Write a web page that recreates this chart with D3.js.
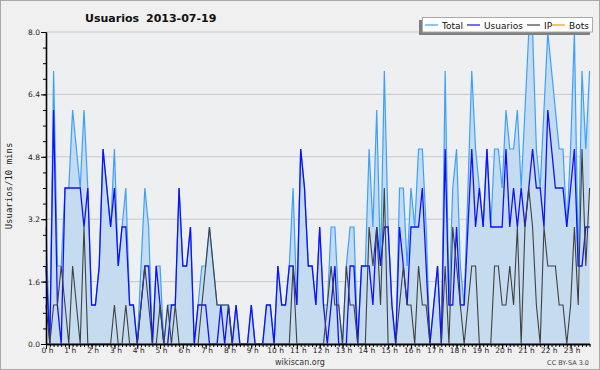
<!DOCTYPE html>
<html>
<head>
<meta charset="utf-8">
<script src="https://cdn.jsdelivr.net/npm/d3@7"></script>
<style>
  body { margin: 0; background: #f0f0f0; }
  text { font-family: "DejaVu Sans", sans-serif; }
</style>
</head>
<body>
<svg id="chart"></svg>
<script>
// users per 10 minutes, 144 slots (00:00 .. 23:50)
const total = [
  3,0,7,2,2,4,4,6,5,4, 6,4,1,1,2,5,4,3,5,2, 3,4,1,1,0,2,4,3,0,2,
  2,0,1,1,1,4,2,2,3,0, 1,2,2,3,2,1,1,1,1,0, 1,0,0,0,1,0,0,0,1,1,
  0,2,1,1,2,4,1,5,4,2, 2,1,3,1,1,3,3,1,0,2, 3,3,0,2,2,5,3,6,2,7,
  3,1,0,4,4,2,4,3,5,5, 3,0,1,2,0,7,1,4,5,2, 1,4,7,5,4,3,5,3,5,5,
  4,6,5,5,6,4,6,8,8,5, 4,6,8,7,6,5,5,3,5,8, 2,7,5,7
]
const usuarios = [
  2,0,6,1,0,4,4,4,4,4, 3,4,1,1,2,5,4,3,4,2, 3,3,1,1,0,1,2,2,0,2,
  1,0,0,1,1,4,2,2,3,0, 1,1,1,0,0,0,1,0,1,0, 1,0,0,0,1,0,0,0,1,1,
  0,2,1,1,2,2,1,5,4,2, 2,1,3,1,0,1,2,0,0,0, 2,2,0,2,2,2,1,3,2,3,
  3,1,0,3,2,1,3,3,3,4, 2,0,1,2,0,5,1,1,3,1, 1,3,5,3,4,3,5,3,3,3,
  3,5,3,4,3,4,3,4,5,4, 4,3,6,5,4,4,4,3,4,5, 2,2,3,3
]
const ip = [
  1,0,1,1,2,1,0,2,1,0, 3,0,0,0,0,0,0,0,1,0, 0,1,0,0,0,1,2,1,0,0,
  1,0,1,0,1,0,0,0,0,0, 0,1,2,3,2,1,1,1,1,0, 0,0,0,0,0,0,0,0,0,0,
  0,0,0,0,0,2,0,0,0,0, 0,0,0,0,1,2,1,1,0,2, 1,1,0,0,0,3,2,3,1,4,
  0,0,0,1,2,1,1,0,2,1, 1,0,0,0,0,2,0,3,2,1, 0,1,2,2,0,0,0,0,2,2,
  1,1,2,1,3,0,3,4,3,1, 0,3,2,2,2,1,1,0,1,3, 1,5,2,4
]
const bots = [
  0,0,0,0,0,0,0,0,0,0, 0,0,0,0,0,0,0,0,0,0, 0,0,0,0,0,0,0,0,0,0,
  0,0,0,0,0,0,0,0,0,0, 0,0,0,0,0,0,0,0,0,0, 0,0,0,0,0,0,0,0,0,0,
  0,0,0,0,0,0,0,0,0,0, 0,0,0,0,0,0,0,0,0,0, 0,0,0,0,0,0,0,0,0,0,
  0,0,0,0,0,0,0,0,0,0, 0,0,0,0,0,0,0,0,0,0, 0,0,0,0,0,0,0,0,0,0,
  0,0,0,0,0,0,0,0,0,0, 0,0,0,0,0,0,0,0,0,0, 0,0,0,0
]
const hourLabels = ["0 h","1 h","2 h","3 h","4 h","5 h","6 h","7 h","8 h","9 h","10 h","11 h",
  "12 h","13 h","14 h","15 h","16 h","17 h","18 h","19 h","20 h","21 h","22 h","23 h"]
const yTicks = [0, 1.6, 3.2, 4.8, 6.4, 8.0]
const seriesNames = ["Total", "Usuarios", "IP", "Bots"]
const seriesColors = ["#3ca0ff", "#1010ff", "#404040", "#ff9900"]

const width = 600, height = 370
const svg = d3.select("#chart")
    .attr("width", width)
    .attr("height", height)

const x = d3.scaleLinear().domain([0, total.length - 1]).range([46, 589.6])
const y = d3.scaleLinear().domain([0, 8]).range([344, 32])

svg.append("rect")
    .attr("x", 0.5).attr("y", 0.5)
    .attr("width", width - 1).attr("height", height - 1)
    .attr("fill", "#f0f0f0").attr("stroke", "#a8a8a8")

svg.append("rect")
    .attr("x", x.range()[0]).attr("y", y.range()[1])
    .attr("width", x.range()[1] - x.range()[0])
    .attr("height", y.range()[0] - y.range()[1])
    .attr("fill", "#edeff1")

// grid
svg.append("g")
  .selectAll("line")
  .data(yTicks.slice(1))
  .join("line")
    .attr("x1", x.range()[0]).attr("x2", x.range()[1])
    .attr("y1", d => y(d)).attr("y2", d => y(d))
    .attr("stroke", "#c8c8c8")

// area under total
svg.append("path")
    .datum(total)
    .attr("fill", "#c5dcf0")
    .attr("d", d3.area().x((d, i) => x(i)).y0(y(0)).y1(d => y(d)))

const line = d3.line().x((d, i) => x(i)).y(d => y(d))
const series = [total, usuarios, ip, bots]
const widths = [1.2, 1.3, 1.1, 1.1]
series.forEach((s, k) => {
  svg.append("path")
      .datum(s)
      .attr("fill", "none")
      .attr("stroke", seriesColors[k])
      .attr("stroke-width", widths[k])
      .attr("d", line)
})

// axes
const yMinor = d3.range(0, 8.001, 0.4)
svg.append("g")
    .attr("transform", `translate(${x.range()[0]},0)`)
    .call(d3.axisLeft(y).tickValues(yMinor).tickSize(3).tickSizeOuter(0).tickFormat(""))
svg.append("g")
    .attr("class", "yaxis")
    .attr("transform", `translate(${x.range()[0]},0)`)
    .call(d3.axisLeft(y).tickValues(yTicks).tickSize(5).tickSizeOuter(0).tickFormat(d3.format(".1f")))

const xMinor = d3.range(0, total.length)
svg.append("g")
    .attr("transform", `translate(0,${y(0)})`)
    .call(d3.axisBottom(x).tickValues(xMinor).tickSize(3).tickSizeOuter(0).tickFormat(""))
svg.append("g")
    .attr("class", "xaxis")
    .attr("transform", `translate(0,${y(0)})`)
    .call(d3.axisBottom(x).tickValues(hourLabels.map((h, i) => i * 6)).tickSize(5).tickSizeOuter(0)
      .tickFormat((d, i) => hourLabels[i]))

svg.selectAll(".domain").attr("stroke", "#000").attr("stroke-width", 1.3)
svg.selectAll(".tick line").attr("stroke", "#000")
svg.selectAll(".tick text")
    .attr("fill", "#222")
    .style("font-size", "7.5px")
svg.selectAll(".yaxis .tick text").attr("x", -6)
svg.selectAll(".xaxis .tick text").attr("y", 4).attr("dx", 1)

// title
svg.append("text")
    .attr("x", 85).attr("y", 22)
    .style("font-size", "11px").style("font-weight", "bold")
    .attr("fill", "#111")
    .text("Usuarios")
svg.append("text")
    .attr("x", 146).attr("y", 22)
    .style("font-size", "11px").style("font-weight", "bold")
    .attr("fill", "#111")
    .text("2013-07-19")

// y label
svg.append("text")
    .attr("transform", "translate(12,186) rotate(-90)")
    .attr("text-anchor", "middle")
    .style("font-family", "'DejaVu Sans Mono', monospace")
    .style("font-size", "9px")
    .attr("fill", "#222")
    .text("Usuarios/10 mins")

// footer
svg.append("text")
    .attr("x", 300).attr("y", 365)
    .attr("text-anchor", "middle")
    .style("font-size", "8px").attr("fill", "#333")
    .text("wikiscan.org")
svg.append("text")
    .attr("x", 589).attr("y", 365)
    .attr("text-anchor", "end")
    .style("font-size", "6.5px").attr("fill", "#444")
    .text("CC BY-SA 3.0")

// legend
const lg = svg.append("g")
lg.append("rect").attr("x", 419).attr("y", 20).attr("width", 171).attr("height", 15).attr("fill", "#808080")
lg.append("rect").attr("x", 422.5).attr("y", 17.5).attr("width", 170).attr("height", 14.5)
    .attr("fill", "#fff").attr("stroke", "#aaa")
const legendX = [425, 467, 527, 552]
seriesNames.forEach((name, k) => {
  lg.append("line")
      .attr("x1", legendX[k]).attr("x2", legendX[k] + 13)
      .attr("y1", 25).attr("y2", 25)
      .attr("stroke", seriesColors[k]).attr("stroke-width", 1.2)
  lg.append("text")
      .attr("x", legendX[k] + 17).attr("y", 28.5)
      .style("font-size", "9px").attr("fill", "#111")
      .text(name)
})
</script>
</body>
</html>
